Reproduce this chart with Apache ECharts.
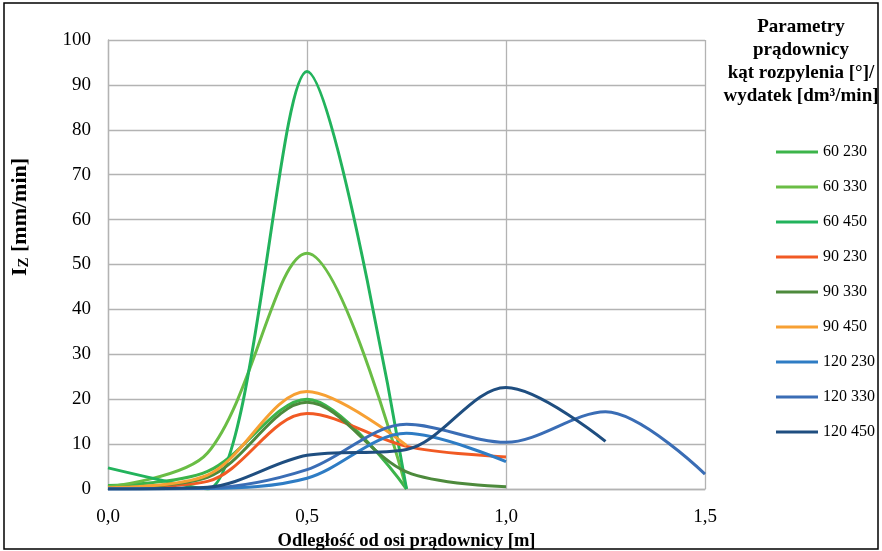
<!DOCTYPE html>
<html>
<head>
<meta charset="utf-8">
<script src="https://cdn.jsdelivr.net/npm/echarts@6/dist/echarts.min.js"></script>
<style>
html,body{margin:0;padding:0;background:#fff;}
#chart{width:882px;height:551px;}
</style>
</head>
<body>
<div id="chart"></div>
<script>
// Distance from nozzle axis [m]
var xValues = [0, 0.25, 0.5, 0.75, 1.0, 1.25, 1.5];
var seriesNames = ['60 230', '60 330', '60 450', '90 230', '90 330', '90 450', '120 230', '120 330', '120 450'];
// I_Z [mm/min]
var s60_230 = [0.8, 3.9, 20.0, 0];
var s60_330 = [0.5, 8.0, 52.5, 0];
var s60_450 = [4.7, 0, 93.0, 0];
var s90_230 = [0.2, 1.7, 16.8, 9.5, 7.1];
var s90_330 = [0.3, 2.6, 19.3, 3.8, 0.5];
var s90_450 = [0.3, 3.1, 21.7, 9.7];
var s120_230 = [0, 0.1, 2.4, 12.4, 6.1];
var s120_330 = [0, 0.2, 4.3, 14.4, 10.4, 17.2, 3.3];
var s120_450 = [0, 0.4, 7.5, 8.8, 22.6, 10.6];
var xTickLabels = ['0,0', '0,5', '1,0', '1,5'];

var allValues = [s60_230, s60_330, s60_450, s90_230, s90_330, s90_450, s120_230, s120_330, s120_450];
var colors = ['#3cb44a', '#6abd45', '#22b35c', '#f15a24', '#4d8a3c', '#f7a033', '#2e7cc4', '#3a6db5', '#1f4e80'];
var smoothness = [0.33, 0.33, 0.28, 0.33, 0.33, 0.33, 0.33, 0.33, 0.33];

var FONT = '"Liberation Serif", "Times New Roman", serif';

var series = allValues.map(function (vals, i) {
  return {
    name: seriesNames[i],
    type: 'line',
    smooth: smoothness[i],
    showSymbol: false,
    symbol: 'none',
    clip: true,
    data: vals.map(function (v, j) { return [xValues[j], v]; }),
    lineStyle: { width: 3, color: colors[i] },
    itemStyle: { color: colors[i] },
    emphasis: { disabled: true }
  };
});

var chart = echarts.init(document.getElementById('chart'), null, { renderer: 'canvas' });
chart.setOption({
  animation: false,
  backgroundColor: '#fff',
  grid: { left: 108, right: 177, top: 40, bottom: 62, containLabel: false, outerBoundsMode: 'none' },
  xAxis: {
    type: 'value', min: 0, max: 1.5, interval: 0.5,
    axisLine: { show: true, lineStyle: { color: '#b3b3b3', width: 1.3 } },
    axisTick: { show: false },
    splitLine: { show: true, lineStyle: { color: '#b3b3b3', width: 1.3 } },
    axisLabel: {
      margin: 19, fontSize: 19, fontFamily: FONT, color: '#000',
      formatter: function (v) { return xTickLabels[Math.round(v / 0.5)]; }
    },
    name: 'Odległość od osi prądownicy [m]',
    nameLocation: 'middle', nameGap: 41,
    nameTextStyle: { fontSize: 18.5, fontWeight: 'bold', fontFamily: FONT, color: '#000' }
  },
  yAxis: {
    type: 'value', min: 0, max: 100, interval: 10,
    axisLine: { show: true, lineStyle: { color: '#b3b3b3', width: 1.3 } },
    axisTick: { show: false },
    splitLine: { show: true, lineStyle: { color: '#b3b3b3', width: 1.3 } },
    axisLabel: { margin: 17, fontSize: 19, fontFamily: FONT, color: '#000' }
  },
  legend: {
    orient: 'vertical', left: 771, top: 139,
    itemWidth: 42, itemHeight: 3, itemGap: 19,
    icon: 'rect',
    data: seriesNames,
    textStyle: { fontSize: 16, fontFamily: FONT, color: '#000', lineHeight: 16 },
    selectedMode: false
  },
  graphic: [
    {
      type: 'rect', silent: true,
      shape: { x: 4, y: 3, width: 874, height: 546 },
      style: { fill: 'none', stroke: '#000', lineWidth: 1.5 }
    },
    {
      type: 'text', silent: true,
      x: 801, y: 15,
      style: {
        text: 'Parametry\nprądownicy\nkąt rozpylenia [°]/\nwydatek [dm³/min]',
        textAlign: 'center', textVerticalAlign: 'top',
        font: 'bold 19px ' + FONT, lineHeight: 23.3, fill: '#000'
      }
    },
    {
      type: 'text', silent: true,
      x: 20, y: 217, rotation: Math.PI / 2,
      style: {
        text: '{n|I}{s|Z}{n| [mm/min]}',
        textAlign: 'center', textVerticalAlign: 'middle',
        rich: {
          n: { fontSize: 22, fontWeight: 'bold', fontFamily: FONT, fill: '#000', color: '#000' },
          s: { fontSize: 15, fontWeight: 'bold', fontFamily: FONT, fill: '#000', color: '#000', padding: [9, 0, 0, 0] }
        }
      }
    }
  ],
  series: series
});
</script>
</body>
</html>
